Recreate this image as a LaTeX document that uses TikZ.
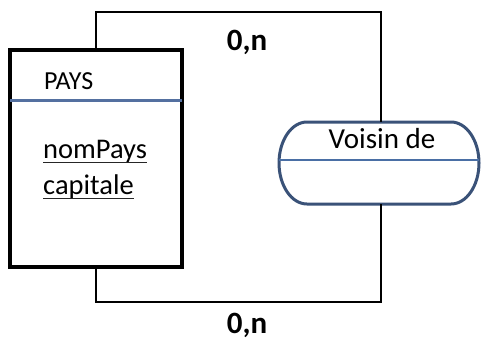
\documentclass[tikz,border=0pt]{standalone}
\usepackage{fontspec}
\setmainfont{Carlito}
\definecolor{sepblue}{HTML}{5470A0}
\definecolor{reledge}{HTML}{3A5278}
\definecolor{relline}{HTML}{4A6FA5}
\tikzset{
  entbox/.style={draw=black, line width=3.6pt, minimum width=172pt, minimum height=217pt, inner sep=0pt},
  link/.style={draw=black, line width=1.8pt},
  txt/.style={inner sep=0pt, anchor=base west, font=\fontsize{26}{31}\selectfont},
  attr/.style={inner sep=0pt, anchor=base west, font=\fontsize{28.5}{33}\selectfont},
  card/.style={inner sep=0pt, anchor=base, font=\bfseries\fontsize{31}{36}\selectfont},
  ul/.style={draw=black!85, line width=1.4pt}
}
\begin{document}
\begin{tikzpicture}[x=1pt,y=-1pt]
\useasboundingbox (0,0) rectangle (481,341);
\fill[white] (0,0) rectangle (481,341);
% entity
\node[entbox] (ent) at (96,158.5) {};
\draw[sepblue, line width=3pt] (10,100) -- (182,100);
\node[txt] (pays) at (44,89) {PAYS};
\node[attr] (nom) at (43,158) {nomPays};
\node[attr] (cap) at (43,194) {capitale};
\draw[ul] ([yshift=-4.5pt]nom.base west) -- ([yshift=-4.5pt]nom.base east);
\draw[ul] ([yshift=-4.5pt]cap.base west) -- ([yshift=-4.5pt]cap.base east);
% relation
\coordinate (relT) at (381,122);
\coordinate (relB) at (381,204);
\draw[reledge, line width=3pt] (307,122) -- (451,122)
  arc[start angle=-90, end angle=0, x radius=28, y radius=41]
  arc[start angle=0, end angle=90, x radius=28, y radius=41]
  -- (307,204)
  arc[start angle=90, end angle=180, x radius=28, y radius=41]
  arc[start angle=180, end angle=270, x radius=28, y radius=41] -- cycle;
\draw[relline, line width=2.6pt] (279,160) -- (479,160);
\node[inner sep=0pt, anchor=base, font=\fontsize{29}{34}\selectfont] (voisin) at (382,148) {Voisin de};
% connectors
\draw[link] (ent.north) |- (381,12) -- (relT);
\draw[link] (ent.south) |- (381,302) -- (relB);
\node[card] (c1) at (247,50) {0,n};
\node[card] (c2) at (247,333) {0,n};
\end{tikzpicture}
\end{document}
